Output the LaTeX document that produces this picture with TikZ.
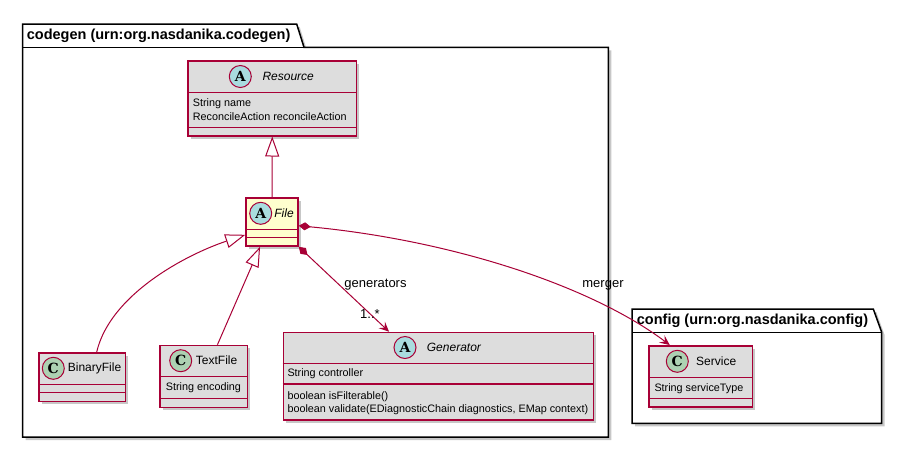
\documentclass[tikz,border=0pt]{standalone}
\usepackage{fontspec}
\setmainfont{Liberation Sans}
\newfontfamily\circfont{DejaVu Serif}
\usetikzlibrary{arrows.meta,shadows}
\definecolor{umlborder}{HTML}{A80036}
\definecolor{umlgrey}{HTML}{DDDDDD}
\definecolor{umlyellow}{HTML}{FEFECE}
\definecolor{circA}{HTML}{A9DCDF}
\definecolor{circC}{HTML}{ADD1B2}
\begin{document}
\begin{tikzpicture}[x=1pt,y=-1pt,
  shad/.style={drop shadow={shadow xshift=3pt,shadow yshift=-3pt,opacity=0.22,fill=black}},
  classbox/.style={draw=umlborder,line width=1.5pt,fill=umlgrey,rectangle,inner sep=0pt,anchor=north west,shad},
  sep/.style={draw=umlborder,line width=1.5pt},
  circ/.style={circle,draw=umlborder,line width=1pt,minimum size=22pt,inner sep=0pt,font=\circfont\bfseries\fontsize{14}{14}\selectfont},
  cname/.style={anchor=west,inner sep=0pt,font=\fontsize{12}{14}\selectfont},
  aname/.style={anchor=west,inner sep=0pt,font=\fontsize{12}{14}\selectfont\itshape},
  attr/.style={anchor=west,inner sep=0pt,font=\fontsize{10.8}{13}\selectfont},
  pkg/.style={draw=black,line width=1.5pt,fill=white,shad},
  pkgtitle/.style={anchor=west,inner sep=0pt,font=\fontsize{14.5}{16}\selectfont\bfseries},
  conn/.style={draw=umlborder,line width=1pt},
  elabel/.style={inner sep=0pt,font=\fontsize{13}{15}\selectfont},
  gentip/.style={-{Triangle[open,length=20pt,width=14pt]}},
  comptip/.style={{Diamond[length=12pt,width=8pt]}-{Stealth[length=10pt,width=9pt,inset=4pt]}},
]
\useasboundingbox (0,0) rectangle (902,448);

% packages
\draw[pkg] (22.7,24) -- (296.7,24) -- (304,47.3) -- (608.3,47.3) -- (608.3,437) -- (22.7,437) -- cycle;
\draw[line width=1.5pt] (22.7,47.3) -- (304,47.3);
\node[pkgtitle] (pcodegen) at (26.7,36) {codegen (urn:org.nasdanika.codegen)};

\draw[pkg] (632,309) -- (873.3,309) -- (881.7,332.3) -- (881.7,423.3) -- (632,423.3) -- cycle;
\draw[line width=1.5pt] (632,332.3) -- (881.7,332.3);
\node[pkgtitle] (pconfig) at (636.7,320.6) {config (urn:org.nasdanika.config)};

% Resource
\node[classbox,minimum width=168.4pt,minimum height=75pt] (res) at (187.3,60) {};
\draw[sep] (res.west |- 0,92.7) -- (res.east |- 0,92.7);
\draw[sep] (res.west |- 0,127.7) -- (res.east |- 0,127.7);
\node[circ,fill=circA] (resc) at (240.3,76.5) {A};
\node[aname] (resn) at (262.3,76.5) {Resource};
\node[attr] (resa1) at (192.7,103.3) {String name};
\node[attr] (resa2) at (192.7,116.7) {ReconcileAction reconcileAction};

% File
\node[classbox,fill=umlyellow,minimum width=52pt,minimum height=48pt] (file) at (245.3,197.3) {};
\draw[sep] (file.west |- 0,229.3) -- (file.east |- 0,229.3);
\draw[sep] (file.west |- 0,237.3) -- (file.east |- 0,237.3);
\node[circ,fill=circA] (filec) at (260.7,213.3) {A};
\node[aname] (filen) at (274.2,213.3) {File};

% BinaryFile
\node[classbox,minimum width=86.7pt,minimum height=48.7pt] (bin) at (38,352) {};
\draw[sep] (bin.west |- 0,384.7) -- (bin.east |- 0,384.7);
\draw[sep] (bin.west |- 0,392.7) -- (bin.east |- 0,392.7);
\node[circ,fill=circC] (binc) at (53.3,368.3) {C};
\node[cname] (binn) at (67.7,368.3) {BinaryFile};

% TextFile
\node[classbox,minimum width=87.4pt,minimum height=62pt] (txt) at (159.3,344.7) {};
\draw[sep] (txt.west |- 0,376.7) -- (txt.east |- 0,376.7);
\draw[sep] (txt.west |- 0,398.7) -- (txt.east |- 0,398.7);
\node[circ,fill=circC] (txtc) at (180.7,360.7) {C};
\node[cname] (txtn) at (195.7,360.7) {TextFile};
\node[attr] (txta) at (165.7,388) {String encoding};

% Generator
\node[classbox,minimum width=310pt,minimum height=87.6pt] (gen) at (282.7,331.7) {};
\draw[sep] (gen.west |- 0,363.3) -- (gen.east |- 0,363.3);
\draw[sep] (gen.west |- 0,384) -- (gen.east |- 0,384);
\node[circ,fill=circA] (genc) at (405,347.5) {A};
\node[aname] (genn) at (426.7,347.5) {Generator};
\node[attr] (gena) at (287.3,374) {String controller};
\node[attr] (genm1) at (287.3,396.7) {boolean isFilterable()};
\node[attr] (genm2) at (287.3,410) {boolean validate(EDiagnosticChain diagnostics, EMap context)};

% Service
\node[classbox,minimum width=103.4pt,minimum height=61.3pt] (svc) at (648.3,345) {};
\draw[sep] (svc.west |- 0,377.5) -- (svc.east |- 0,377.5);
\draw[sep] (svc.west |- 0,398.3) -- (svc.east |- 0,398.3);
\node[circ,fill=circC] (svcc) at (677.3,361.3) {C};
\node[cname] (svcn) at (696,361.3) {Service};
\node[attr] (svca) at (654.3,388.5) {String serviceType};

% connectors
\draw[conn,gentip] (file.north) -- (res.south);
\draw[conn,gentip] ([xshift=14.6pt]bin.north) .. controls (110,295) and (185,255) .. ([yshift=12pt]file.south west);
\draw[conn,gentip] ([xshift=13.7pt]txt.north) -- ([xshift=-12pt]file.south);
\draw[conn,comptip] (file.south east) -- ([xshift=-49.4pt]gen.north);
\draw[conn,comptip] ([yshift=-3.7pt]file.east) .. controls (450,240) and (590,285) .. ([xshift=-31pt]svc.north);

\node[elabel] (lgen) at (375.5,285) {generators};
\node[elabel] (lmult) at (370,314) {1..*};
\node[elabel] (lmerg) at (603,285) {merger};
\end{tikzpicture}
\end{document}
